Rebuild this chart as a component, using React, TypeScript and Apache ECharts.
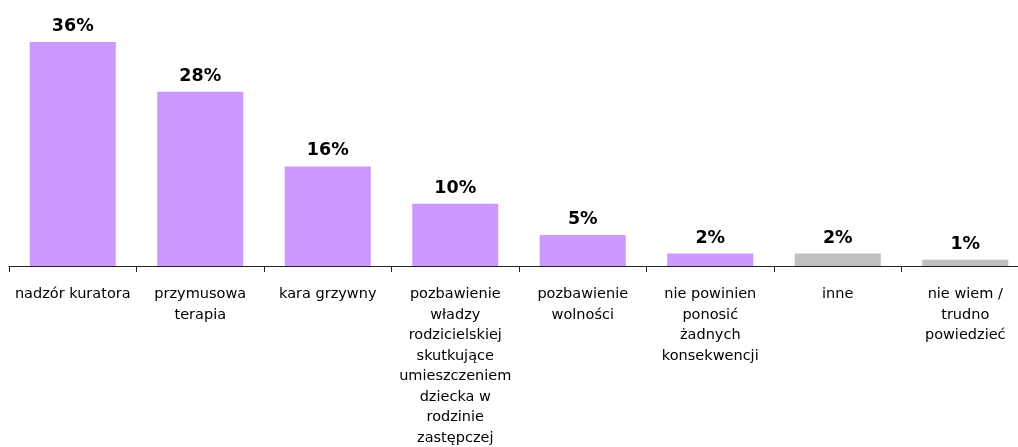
import React, { useEffect, useRef } from "react";
import * as echarts from "echarts";

const categories: string[] = [
  "nadzór kuratora",
  "przymusowa\nterapia",
  "kara grzywny",
  "pozbawienie\nwładzy\nrodzicielskiej\nskutkujące\numieszczeniem\ndziecka w\nrodzinie\nzastępczej",
  "pozbawienie\nwolności",
  "nie powinien\nponosić\nżadnych\nkonsekwencji",
  "inne",
  "nie wiem /\ntrudno\npowiedzieć",
];
const values: number[] = [36, 28, 16, 10, 5, 2, 2, 1];
const barColors: string[] = [
  "#CC99FF",
  "#CC99FF",
  "#CC99FF",
  "#CC99FF",
  "#CC99FF",
  "#CC99FF",
  "#C0C0C0",
  "#C0C0C0",
];

export default function App() {
  const ref = useRef<HTMLDivElement>(null);
  useEffect(() => {
    if (!ref.current) return;
    const chart = echarts.init(ref.current, null, { renderer: "svg" });
    chart.setOption({
      animation: false,
      grid: { left: 9, right: 1, top: 42, bottom: 177, containLabel: false },
      xAxis: {
        type: "category",
        data: categories,
        axisLine: { show: true, lineStyle: { color: "#222", width: 1 } },
        axisTick: { show: true, length: 6, lineStyle: { color: "#222" } },
        axisLabel: {
          interval: 0,
          margin: 17,
          color: "#000",
          fontFamily: "DejaVu Sans",
          fontSize: 14.5,
          lineHeight: 20.5,
          align: "center",
          verticalAlign: "top",
        },
      },
      yAxis: {
        type: "value",
        min: 0,
        max: 36,
        show: false,
        splitLine: { show: false },
      },
      series: [
        {
          type: "bar",
          barCategoryGap: "32.5%",
          data: values.map((v, i) => ({ value: v, itemStyle: { color: barColors[i] } })),
          label: {
            show: true,
            position: "top",
            distance: 8,
            formatter: "{c}%",
            color: "#000",
            fontFamily: "DejaVu Sans",
            fontWeight: "bold",
            fontSize: 17.5,
          },
        },
      ],
    });
    return () => chart.dispose();
  }, []);
  return (
    <div
      style={{
        position: "fixed",
        left: 0,
        top: 0,
        width: 1018,
        height: 447,
        overflow: "hidden",
      }}
    >
      <div ref={ref} style={{ width: 1030, height: 447 }} />
    </div>
  );
}
